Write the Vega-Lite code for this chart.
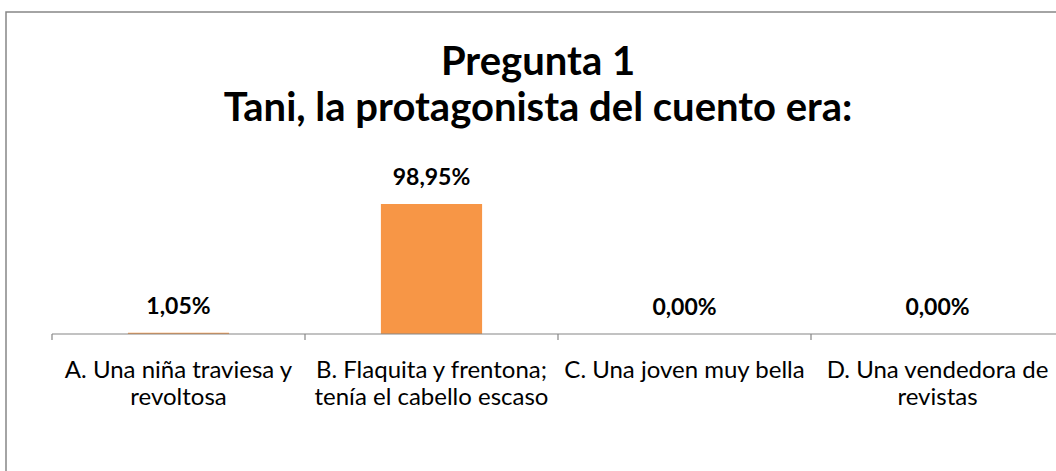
{
  "$schema": "https://vega.github.io/schema/vega-lite/v6.json",
  "width": 1104,
  "height": 488,
  "padding": {"left": 6, "top": 12, "right": 0, "bottom": 0},
  "autosize": {"type": "pad"},
  "background": "white",
  "config": {
    "view": {"stroke": "#868686", "strokeWidth": 1.5},
    "locale": {"number": {"decimal": ",", "thousands": ".", "grouping": [3], "currency": ["", " €"]}},
    "font": "Lato"
  },
  "title": {
    "text": ["Pregunta 1", "Tani, la protagonista del cuento era:"],
    "fontSize": 40,
    "fontWeight": "bold",
    "font": "Lato",
    "color": "#000000",
    "lineHeight": 46,
    "anchor": "middle",
    "offset": -117,
    "dx": -20
  },
  "data": {
    "values": [
      {"cat": "A. Una niña traviesa y|revoltosa", "pct": 0.0105},
      {"cat": "B. Flaquita y frentona;|tenía el cabello escaso", "pct": 0.9895},
      {"cat": "C. Una joven muy bella", "pct": 0.0},
      {"cat": "D. Una vendedora de|revistas", "pct": 0.0}
    ]
  },
  "encoding": {
    "x": {
      "field": "cat",
      "type": "nominal",
      "sort": null,
      "scale": {"paddingInner": 0, "paddingOuter": 0.1818},
      "axis": {
        "title": null,
        "orient": "bottom",
        "offset": -166,
        "domain": false,
        "ticks": false,
        "labelAngle": 0,
        "labelPadding": 24,
        "labelFontSize": 24,
        "labelFont": "Lato",
        "labelColor": "#000000",
        "labelLineHeight": 27,
        "labelBaseline": "top",
        "labelLimit": 0,
        "labelOverlap": false,
        "labelExpr": "split(datum.label, '|')"
      }
    }
  },
  "layer": [
    {
      "mark": {"type": "bar", "color": "#F79646", "width": {"band": 0.4}},
      "encoding": {
        "y": {
          "field": "pct",
          "type": "quantitative",
          "scale": {"domain": [-1.2635, 2.451], "nice": false, "zero": false},
          "axis": null
        }
      }
    },
    {
      "mark": {"type": "text", "fontSize": 23, "fontWeight": "bold", "font": "Lato", "color": "#000000", "baseline": "middle", "dy": -26},
      "encoding": {
        "y": {"field": "pct", "type": "quantitative"},
        "text": {"field": "pct", "type": "quantitative", "format": ".2%"}
      }
    },
    {
      "mark": {"type": "rule", "color": "#868686", "strokeWidth": 1.2},
      "encoding": {
        "x": {"field": "cat", "type": "nominal", "sort": null, "bandPosition": 0},
        "y": {"datum": 0, "type": "quantitative"},
        "y2": {"datum": -0.046}
      }
    },
    {
      "transform": [{"filter": "datum.pct > 0.5"}],
      "mark": {"type": "rule", "color": "#868686", "strokeWidth": 1.2},
      "encoding": {
        "x": {"datum": "A. Una niña traviesa y|revoltosa", "type": "nominal", "bandPosition": 0},
        "x2": {"value": "width"},
        "y": {"datum": 0, "type": "quantitative"}
      }
    }
  ]
}
